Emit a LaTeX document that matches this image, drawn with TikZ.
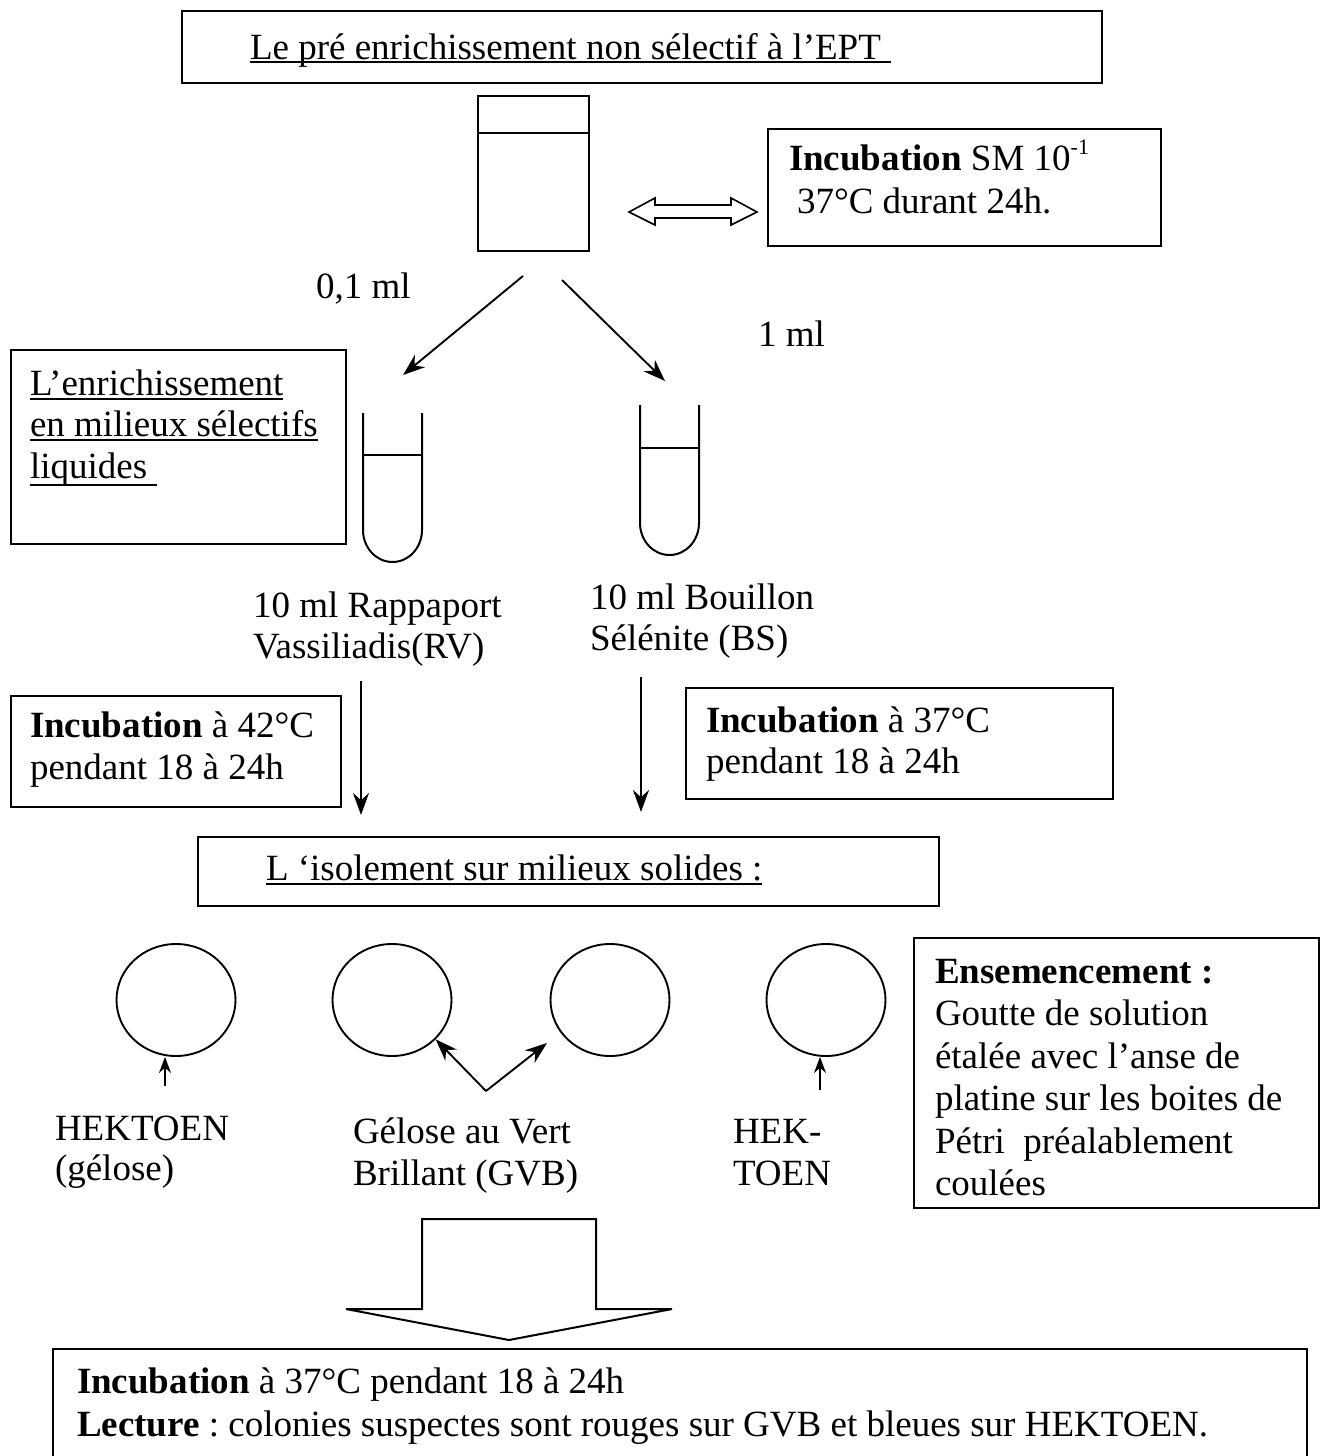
\documentclass[tikz,border=0pt]{standalone}
\usepackage{fontspec}
\setmainfont{Liberation Serif}
\usetikzlibrary{arrows.meta,shapes.geometric}
\frenchspacing
\begin{document}
\begin{tikzpicture}[x=1pt,y=-1pt,
 box/.style={draw,line width=2pt,anchor=north west,inner sep=0pt},
 txt/.style={anchor=base west,inner sep=0pt,outer sep=0pt,font=\fontsize{37}{42.5}\selectfont},
 ul/.style={line width=2pt},
 arr/.style={line width=1.9pt,-{Stealth[length=22pt,width=16pt]}},
 sarr/.style={line width=1.9pt,-{Stealth[length=16pt,width=12pt]}},
 plate/.style={draw,ellipse,line width=1.9pt,minimum width=119pt,minimum height=112pt,inner sep=0pt},
 lin/.style={line width=2pt},
]
\useasboundingbox (0,0) rectangle (1322,1456);
\clip (0,0) rectangle (1322,1456);
\fill[white] (0,0) rectangle (1322,1456);

% --- top box
\node[box,minimum width=920pt,minimum height=72pt] (top) at (181,10) {};
\node[txt] (ttop) at (250,59) {Le pré enrichissement non sélectif à l’EPT};
\draw[ul] ([yshift=-3pt]ttop.base west) -- ([xshift=10pt,yshift=-3pt]ttop.base east);

% --- beaker
\node[box,minimum width=111pt,minimum height=155pt] (beaker) at (477,95) {};
\draw[lin] (beaker.west |- 0,133) -- (beaker.east |- 0,133);

% --- double hollow arrow
\draw[lin,line width=1.6pt] (629,212) -- (655,198) -- (655,205) -- (731,205) -- (731,198) -- (757,212)
  -- (731,225) -- (731,218) -- (655,218) -- (655,225) -- cycle;

% --- incubation SM box
\node[box,minimum width=393pt,minimum height=117pt] (incsm) at (767,128) {};
\node[txt] (incsm1) at (789,170) {\textbf{Incubation} SM 10\raisebox{0.42em}{\fontsize{22}{22}\selectfont -1}};
\node[txt] (incsm2) at (797,213) {37°C durant 24h.};

% --- split arrows
\coordinate (s1) at (523,276);
\coordinate (e1) at (403,375);
\coordinate (s2) at (562,280);
\coordinate (e2) at (665,381);
\draw[arr] (s1) -- (e1);
\draw[arr] (s2) -- (e2);
\node[txt] (v01) at (316,298) {0,1 ml};
\node[txt] (v1) at (758,346) {1 ml};

% --- left enrichment box
\node[box,minimum width=335pt,minimum height=194pt] (enr) at (10,349) {};
\node[txt] (enr1) at (30,395) {L’enrichissement};
\node[txt] (enr2) at (30,436) {en milieux sélectifs};
\node[txt] (enr3) at (30,478) {liquides};
\draw[ul] ([yshift=-4pt]enr1.base west) -- ([yshift=-4pt]enr1.base east);
\draw[ul] ([yshift=-4pt]enr2.base west) -- ([yshift=-4pt]enr2.base east);
\draw[ul] ([yshift=-7pt]enr3.base west) -- ([xshift=10pt,yshift=-7pt]enr3.base east);

% --- tubes
\draw[lin] (363,413) -- (363,530) arc[start angle=180,end angle=360,x radius=29.5pt,y radius=32pt] -- (422,413);
\draw[lin] (363,455) -- (422,455);
\draw[lin] (640,405) -- (640,523) arc[start angle=180,end angle=360,x radius=29.5pt,y radius=32pt] -- (699,405);
\draw[lin] (640,448) -- (699,448);

\node[txt] (rv1) at (253,617) {10 ml Rappaport};
\node[txt] (rv2) at (253,658) {Vassiliadis(RV)};
\node[txt] (bs1) at (590,609) {10 ml Bouillon};
\node[txt] (bs2) at (590,650) {Sélénite (BS)};

% --- incubation boxes
\node[box,minimum width=330pt,minimum height=111pt] (inc42) at (10,695) {};
\node[txt] (inc42a) at (30,737) {\textbf{Incubation} à 42°C};
\node[txt] (inc42b) at (30,779) {pendant 18 à 24h};
\node[box,minimum width=427pt,minimum height=111pt] (inc37) at (685,687) {};
\node[txt] (inc37a) at (706,732) {\textbf{Incubation} à 37°C};
\node[txt] (inc37b) at (706,773) {pendant 18 à 24h};

\coordinate (d1) at (361,681);
\coordinate (d2) at (641,677);
\draw[arr] (d1) -- (361,815);
\draw[arr] (d2) -- (641,812);

% --- isolement box
\node[box,minimum width=741pt,minimum height=69pt] (iso) at (197,836) {};
\node[txt] (tiso) at (266,880) {L ‘isolement sur milieux solides :};
\draw[ul] ([yshift=-4pt]tiso.base west) -- ([yshift=-4pt]tiso.base east);

% --- plates
\node[plate] (c1) at (176,1000) {};
\node[plate] (c2) at (392,1000) {};
\node[plate] (c3) at (610,1000) {};
\node[plate] (c4) at (826,1000) {};

\coordinate (a1) at (165,1086);
\draw[sarr] (a1) -- (c1.south -| a1);
\coordinate (a4) at (820,1090);
\draw[sarr] (a4) -- (c4.south -| a4);
\coordinate (g0) at (486,1091);
\draw[arr] (g0) -- (c2.-42);
\draw[arr] (g0) -- (547,1043);

\node[txt] (hk1) at (55,1140) {HEKTOEN};
\node[txt] (hk2) at (55,1180) {(gélose)};
\node[txt] (gv1) at (353,1143) {Gélose au Vert};
\node[txt] (gv2) at (353,1185) {Brillant (GVB)};
\node[txt] (hh1) at (733,1143) {HEK-};
\node[txt] (hh2) at (733,1185) {TOEN};

% --- ensemencement box
\node[box,minimum width=405pt,minimum height=270pt] (ens) at (913,937) {};
\node[txt] (en1) at (935,983) {\textbf{Ensemencement :}};
\node[txt] (en2) at (935,1025.5) {Goutte de solution};
\node[txt] (en3) at (935,1068) {étalée avec l’anse de};
\node[txt] (en4) at (935,1110.5) {platine sur les boites de};
\node[txt] (en5) at (935,1153) {Pétri\ \ préalablement};
\node[txt] (en6) at (935,1195.5) {coulées};

% --- big block arrow
\draw[lin] (422,1219) -- (596,1219) -- (596,1309) -- (672,1309) -- (509,1340) -- (346,1309) -- (422,1309) -- cycle;

% --- bottom box
\node[box,minimum width=1254pt,minimum height=140pt] (res) at (52,1348) {};
\node[txt] (res1) at (77,1393) {\textbf{Incubation} à 37°C pendant 18 à 24h};
\node[txt] (res2) at (77,1436) {\textbf{Lecture} : colonies suspectes sont rouges sur GVB et bleues sur HEKTOEN.};
\end{tikzpicture}
\end{document}
